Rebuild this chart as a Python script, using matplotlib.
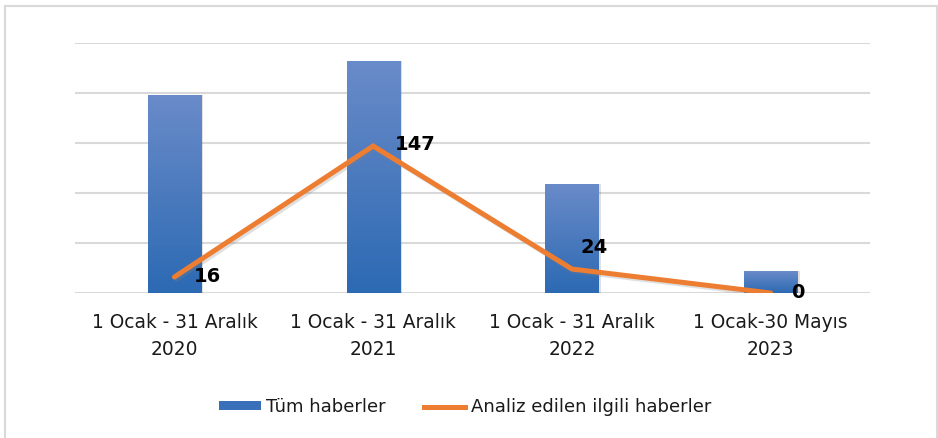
import numpy as np
import matplotlib
matplotlib.use("Agg")
import matplotlib.pyplot as plt
import matplotlib.patheffects as pe
from matplotlib.colors import LinearSegmentedColormap
from matplotlib.patches import Rectangle
from matplotlib.lines import Line2D

# Haber sayıları
categories = ["1 Ocak - 31 Aralık\n2020", "1 Ocak - 31 Aralık\n2021",
              "1 Ocak - 31 Aralık\n2022", "1 Ocak-30 Mayıs\n2023"]
tum_haberler = [198, 232, 109, 22]
analiz_edilen = [16, 147, 24, 0]
series_names = ["Tüm haberler", "Analiz edilen ilgili haberler"]

# label offsets in pixels (dx, dy)
label_offsets = [(19, 0), (22, 2), (9, 22), (20, 0)]

plt.rcParams["font.family"] = ["DejaVu Sans"]

fig = plt.figure(figsize=(9.38, 4.38), dpi=100)
ax = fig.add_axes([75 / 938, 1 - 293 / 438, 795 / 938, 250 / 438])

x = np.arange(len(categories))
bars = ax.bar(x, tum_haberler, width=0.267, color="none", zorder=2)

# gradient fill for bars
grad = LinearSegmentedColormap.from_list("g", ["#2c6ab3", "#6a8bc9"])
for b in bars:
    x0, y0 = b.get_x(), b.get_y()
    w, h = b.get_width(), b.get_height()
    shadow = Rectangle((x0 + 0.012, y0), w, h, facecolor="#000000", alpha=0.12,
                       edgecolor="none", zorder=1.5)
    ax.add_patch(shadow)
    img = ax.imshow(np.linspace(0, 1, 100).reshape(-1, 1), cmap=grad, aspect="auto",
                    extent=(x0, x0 + w, y0, y0 + h), origin="lower", zorder=2)
    img.set_clip_path(b)

ax.plot(x, analiz_edilen, color="#ED7D31", lw=3.6, solid_capstyle="round",
        solid_joinstyle="miter", zorder=3,
        path_effects=[pe.SimpleLineShadow(offset=(1.5, -1.5), alpha=0.25, shadow_color="gray"),
                      pe.Normal()])

for xi, v, (dx, dy) in zip(x, analiz_edilen, label_offsets):
    ax.annotate(str(v), (xi, v), xytext=(dx, dy), textcoords="offset pixels",
                ha="left", va="center", fontsize=14, fontweight="bold",
                color="#000000", zorder=4)

ax.set_xlim(-0.5, 3.5)
ax.set_ylim(0, 250)
ax.set_yticks(np.arange(0, 251, 50))
ax.yaxis.grid(True, color="#d9d9d9", lw=1.5)
ax.set_axisbelow(True)
ax.tick_params(axis="y", left=False, labelleft=False)
ax.tick_params(axis="x", bottom=False, pad=11)
ax.set_xticks(x)
ax.set_xticklabels(categories, fontsize=13.4, color="#1a1a1a", linespacing=1.5)
for s in ax.spines.values():
    s.set_visible(False)

handles = [Rectangle((0, 0), 1, 1, facecolor="#3a6fba", edgecolor="none"),
           Line2D([], [], color="#ED7D31", lw=3.6)]
fig.legend(handles, series_names, loc="center", bbox_to_anchor=(465 / 938, 1 - 407 / 438),
           ncol=2, frameon=False, fontsize=13, handlelength=2.3, handleheight=0.35,
           handletextpad=0.3, columnspacing=2.1, labelcolor="#1a1a1a")

# chart frame
fig.patches.append(Rectangle((5 / 938, -0.1), 932 / 938, 1.1 - 6 / 438,
                             transform=fig.transFigure, fill=False,
                             edgecolor="#d9d9d9", lw=1.5))

fig.savefig("out.png", dpi=100)
